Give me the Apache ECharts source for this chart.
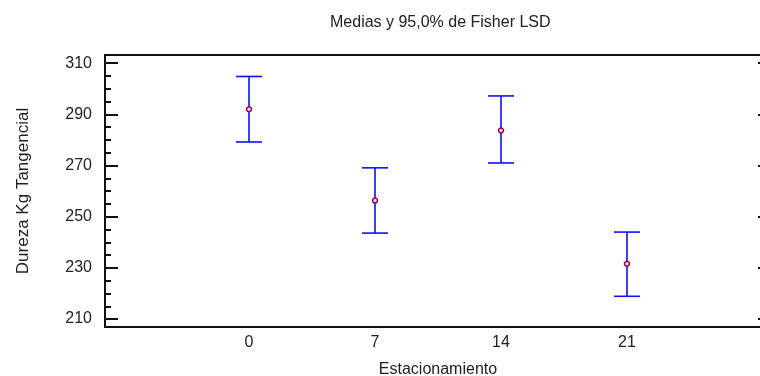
<!DOCTYPE html>
<html><head><meta charset="utf-8">
<script src="https://cdn.jsdelivr.net/npm/echarts@6/dist/echarts.min.js"></script>
<style>html,body{margin:0;padding:0;background:#fff}#c{width:760px;height:376px}</style>
</head><body><div id="c"></div>
<script>
var categories = ['0', '7', '14', '21'];
var means = [292.0, 256.3, 283.7, 231.6];
var lower = [279.2, 243.6, 271.0, 218.9];
var upper = [304.8, 269.1, 297.2, 244.0];
var yTicks = [210, 230, 250, 270, 290, 310];
var yMinor = [210, 215, 220, 225, 230, 235, 240, 245, 250, 255, 260, 265, 270, 275, 280, 285, 290, 295, 300, 305, 310];

var font = 'Liberation Sans, Arial, sans-serif';
var yMin = 206.9, yMax = 313.2;
var xMin = -1.143, xMax = 4.143;

var chart = echarts.init(document.getElementById('c'), null, {renderer: 'canvas'});
var barData = categories.map(function (c, i) { return [i, lower[i], upper[i]]; });
var meanData = categories.map(function (c, i) { return [i, means[i]]; });

chart.setOption({
  animation: false,
  backgroundColor: '#fff',
  title: {
    text: 'Medias y 95,0% de Fisher LSD',
    left: 325, top: 10,
    textStyle: {fontFamily: font, fontSize: 16, fontWeight: 'normal', color: '#222'}
  },
  grid: {left: 105, top: 55, width: 666, height: 272, outerBoundsMode: 'none', containLabel: false,
         show: true, borderColor: '#111', borderWidth: 2, backgroundColor: 'transparent'},
  xAxis: {
    type: 'value', min: xMin, max: xMax,
    name: 'Estacionamiento', nameLocation: 'middle', nameGap: 35,
    nameTextStyle: {fontFamily: font, fontSize: 16, color: '#222'},
    axisLine: {show: true, onZero: false, lineStyle: {color: '#111', width: 2}},
    axisTick: {show: false},
    splitLine: {show: false},
    axisLabel: {
      customValues: [0, 1, 2, 3],
      margin: 8, fontFamily: font, fontSize: 16, color: '#222',
      formatter: function (v) { return categories[Math.round(v)]; }
    }
  },
  yAxis: [{
    type: 'value', min: yMin, max: yMax, position: 'left',
    name: 'Dureza Kg Tangencial', nameLocation: 'middle', nameGap: 73, nameRotate: 90,
    nameTextStyle: {fontFamily: font, fontSize: 17, color: '#222'},
    axisLine: {show: true, onZero: false, lineStyle: {color: '#111', width: 2}},
    axisTick: {show: true, inside: true, length: 13, customValues: yTicks, lineStyle: {color: '#111', width: 2}},
    axisLabel: {customValues: yTicks, margin: 13, fontFamily: font, fontSize: 16, color: '#222'},
    splitLine: {show: false}
  }, {
    type: 'value', min: yMin, max: yMax, position: 'left',
    axisLine: {show: false, onZero: false},
    axisTick: {show: true, inside: true, length: 6, customValues: yMinor, lineStyle: {color: '#111', width: 2}},
    axisLabel: {show: false},
    splitLine: {show: false}
  }, {
    type: 'value', min: yMin, max: yMax, position: 'right',
    axisLine: {show: false, onZero: false},
    axisTick: {show: true, inside: true, length: 13, customValues: yTicks, lineStyle: {color: '#111', width: 2}},
    axisLabel: {show: false},
    splitLine: {show: false}
  }],
  series: [{
    type: 'custom',
    data: barData,
    renderItem: function (params, api) {
      var x = api.value(0);
      var lo = api.coord([x, api.value(1)]);
      var hi = api.coord([x, api.value(2)]);
      var hw = 13;
      var st = {stroke: '#0f0fff', lineWidth: 1.6};
      return {type: 'group', children: [
        {type: 'line', shape: {x1: lo[0], y1: lo[1], x2: hi[0], y2: hi[1]}, style: st},
        {type: 'line', shape: {x1: hi[0] - hw, y1: hi[1], x2: hi[0] + hw, y2: hi[1]}, style: st},
        {type: 'line', shape: {x1: lo[0] - hw, y1: lo[1], x2: lo[0] + hw, y2: lo[1]}, style: st}
      ]};
    },
    z: 2
  }, {
    type: 'scatter',
    data: meanData,
    symbol: 'circle', symbolSize: 5,
    itemStyle: {color: '#f0d0e8', borderColor: '#8b0a50', borderWidth: 1.5, opacity: 1},
    z: 3
  }]
});
</script></body></html>
